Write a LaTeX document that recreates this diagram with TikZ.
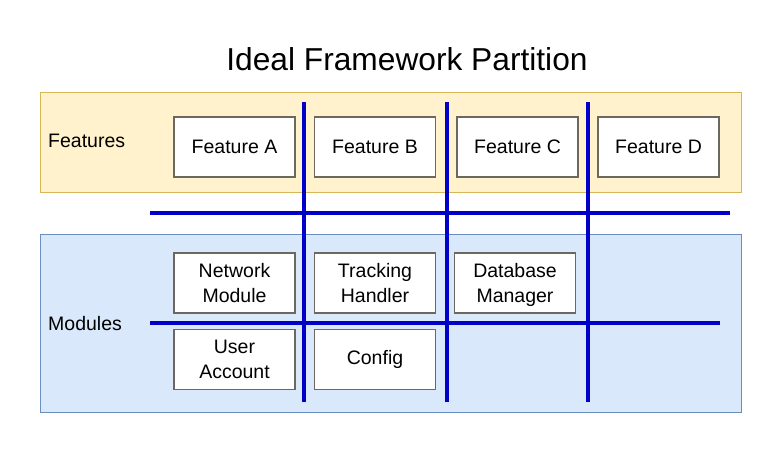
\documentclass[tikz,border=0pt]{standalone}
\usepackage{fontspec}
\setmainfont{Liberation Sans}
\definecolor{featfill}{HTML}{FFF2CC}
\definecolor{featline}{HTML}{D6B656}
\definecolor{modfill}{HTML}{DAE8FC}
\definecolor{modline}{HTML}{6C8EBF}
\definecolor{boxline}{HTML}{6B6860}
\definecolor{partblue}{HTML}{0000C8}
\begin{document}
\begin{tikzpicture}[x=1pt, y=-1pt,
    box/.style={rectangle, draw=boxline, fill=white, line width=1.1pt, minimum width=121pt, minimum height=60pt, inner sep=0pt, align=center, font=\fontsize{19.5}{24.5}\selectfont},
    band/.style={rectangle, line width=0.8pt, minimum width=701pt, inner sep=0pt},
    partline/.style={draw=partblue, line width=4pt}]
    \useasboundingbox (0,0) rectangle (781,453);

    % Title
    \node[anchor=base, font=\fontsize{31.7}{38}\selectfont] (title) at (407,70) {Ideal Framework Partition};

    % Bands
    \node[band, draw=featline, fill=featfill, minimum height=100pt] (feat) at (390.5,142) {};
    \node[band, draw=modline, fill=modfill, minimum height=178pt] (mod) at (390.5,323) {};
    \node[anchor=west, inner sep=0pt, font=\fontsize{19.5}{24}\selectfont] (featlbl) at (48,141) {Features};
    \node[anchor=west, inner sep=0pt, font=\fontsize{19.5}{24}\selectfont] (modlbl) at (48,324) {Modules};

    % Nodes for features
    \node[box] (fa) at (234.5,147) {Feature A};
    \node[box] (fb) at (375,147) {Feature B};
    \node[box] (fc) at (517.5,147) {Feature C};
    \node[box] (fd) at (658.5,147) {Feature D};

    % Nodes for modules
    \node[box] (m1s1) at (234.5,283) {Network\\Module};
    \node[box] (m1s2) at (375,283) {Tracking\\Handler};
    \node[box] (m1s3) at (515,283) {};
    \node[align=center, font=\fontsize{19.5}{24.5}\selectfont] (m1s3txt) at (515,285) {Database\\Manager};
    \node[box] (m2s1) at (234.5,359.5) {User\\Account};
    \node[box] (m2s2) at (375,359.5) {Config};

    % Ends of the partition lines
    \coordinate (v1t) at (304,102);
    \coordinate (v1b) at (304,402);
    \coordinate (v2t) at (447,102);
    \coordinate (v2b) at (447,402);
    \coordinate (v3t) at (588,102);
    \coordinate (v3b) at (588,402);
    \coordinate (h1l) at (150,213);
    \coordinate (h1r) at (730,213);
    \coordinate (h2l) at (150,323);
    \coordinate (h2r) at (720,323);

    % Partition lines
    \draw[partline] (h1l) -- (h1r);
    \draw[partline] (h2l) -- (h2r);
    \draw[partline] (v1t) -- (v1b);
    \draw[partline] (v2t) -- (v2b);
    \draw[partline] (v3t) -- (v3b);
\end{tikzpicture}
\end{document}
